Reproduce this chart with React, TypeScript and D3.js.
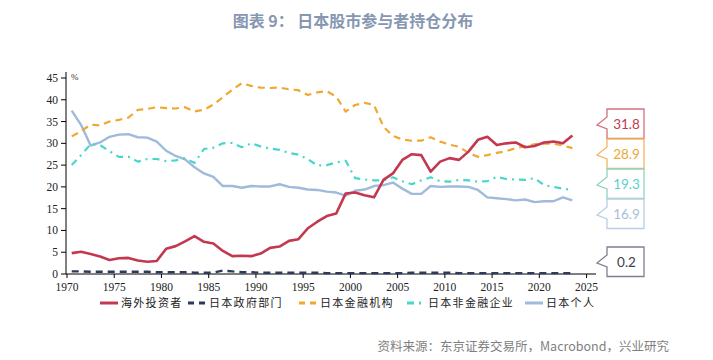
import React from "react";
import * as d3 from "d3";

const years: number[] = d3.range(1970, 2024);

const foreign: number[] = [
  4.8, 5.1, 4.6, 4.0, 3.2, 3.6, 3.7, 3.1, 2.8, 3.0,
  5.8, 6.4, 7.5, 8.7, 7.4, 7.0, 5.3, 4.1, 4.2, 4.1,
  4.7, 6.0, 6.3, 7.6, 8.0, 10.5, 12.0, 13.3, 13.9, 18.5,
  18.7, 18.1, 17.6, 21.6, 23.1, 26.2, 27.5, 27.3, 23.5, 25.8,
  26.6, 26.2, 28.1, 30.8, 31.5, 29.6, 30.0, 30.2, 29.1, 29.4,
  30.2, 30.4, 30.0, 31.8,
];

const government: number[] = [
  0.6, 0.6, 0.5, 0.5, 0.5, 0.5, 0.5, 0.5, 0.5, 0.4,
  0.4, 0.4, 0.4, 0.3, 0.3, 0.3, 0.8, 0.6, 0.4, 0.4,
  0.3, 0.3, 0.3, 0.3, 0.3, 0.3, 0.3, 0.2, 0.2, 0.2,
  0.2, 0.2, 0.2, 0.2, 0.2, 0.2, 0.3, 0.3, 0.3, 0.3,
  0.3, 0.2, 0.2, 0.2, 0.2, 0.2, 0.2, 0.2, 0.2, 0.2,
  0.2, 0.2, 0.2, 0.2,
];

const financial: number[] = [
  31.6, 32.8, 34.3, 34.1, 35.0, 35.4, 35.9, 37.7, 37.9, 38.3,
  38.1, 38.0, 38.3, 37.3, 37.7, 38.9, 40.6, 42.3, 43.8, 43.2,
  42.8, 42.7, 42.8, 42.4, 42.2, 41.1, 41.7, 42.0, 40.7, 37.3,
  38.8, 39.3, 38.8, 33.8, 31.7, 30.9, 30.6, 30.6, 31.4, 30.4,
  29.7, 29.2, 27.8, 26.9, 27.3, 27.8, 28.2, 28.9, 29.3, 29.8,
  29.9, 29.9, 29.5, 28.9,
];

const corporate: number[] = [
  25.0, 27.3, 29.8, 29.6, 28.2, 26.9, 26.9, 25.8, 26.4, 26.4,
  25.9, 26.1, 26.6, 25.5, 28.7, 29.0, 30.0, 30.1, 29.1, 30.0,
  29.3, 28.8, 28.5, 27.8, 27.4, 26.4, 24.9, 25.0, 25.6, 26.0,
  22.0, 21.7, 21.5, 21.5, 22.2, 21.3, 20.6, 21.5, 22.2, 21.3,
  21.2, 21.6, 21.5, 21.2, 21.3, 22.3, 21.8, 21.7, 21.6, 22.0,
  20.4, 20.0, 19.6, 19.3,
];

const individual: number[] = [
  37.5, 34.2, 29.5, 30.2, 31.5, 32.0, 32.1, 31.4, 31.3, 30.4,
  28.3, 27.1, 26.3, 24.5, 23.1, 22.3, 20.2, 20.2, 19.8, 20.2,
  20.1, 20.1, 20.6, 20.0, 19.8, 19.4, 19.3, 18.9, 18.7, 18.0,
  19.1, 19.4, 20.2, 20.4, 21.0, 19.6, 18.4, 18.4, 20.2, 20.0,
  20.1, 20.1, 20.0, 19.3, 17.6, 17.4, 17.2, 16.9, 17.1, 16.5,
  16.7, 16.7, 17.6, 16.9,
];

const seriesNames: string[] = ["海外投资者", "日本政府部门", "日本金融机构", "日本非金融企业", "日本个人"];
const xTicks: number[] = [1970, 1975, 1980, 1985, 1990, 1995, 2000, 2005, 2010, 2015, 2020, 2025];
const yTicks: number[] = [0, 5, 10, 15, 20, 25, 30, 35, 40, 45];

const titleText = "图表 9：  日本股市参与者持仓分布";
const sourceText = "资料来源：东京证券交易所，Macrobond，兴业研究";

type Style = { color: string; dash: string; width: number; boxStroke: string; textColor: string };
const styles: Style[] = [
  { color: "#C3384F", dash: "", width: 2.6, boxStroke: "#D4707E", textColor: "#C0394F" },
  { color: "#2D3A5C", dash: "7,5", width: 2.4, boxStroke: "#7F8090", textColor: "#404048" },
  { color: "#F0A832", dash: "7,5", width: 2.2, boxStroke: "#F4B563", textColor: "#EBA935" },
  { color: "#47D6CC", dash: "7,5,2,5", width: 2.2, boxStroke: "#8FD5BE", textColor: "#55D2CA" },
  { color: "#9FBADA", dash: "", width: 2.4, boxStroke: "#B9CDE5", textColor: "#A8BEDB" },
];

const data: number[][] = [foreign, government, financial, corporate, individual];

// label box layout (foreign, financial, corporate, individual, government)
const boxOrder = [0, 2, 3, 4, 1];
const boxTops = [109, 139, 169, 199, 247];
const legendX = [100, 188, 299, 407, 525];

export default function App() {
  const x = d3.scaleLinear().domain([1970, 2026]).range([67, 596]);
  const y = d3.scaleLinear().domain([0, 45]).range([274, 78]);

  const line = d3
    .line<number>()
    .x((_, i) => x(years[i] + 0.5))
    .y((d) => y(d));

  const boxL = 607;
  const boxR = 644;
  const tipX = 597;

  return (
    <svg
      width={713}
      height={360}
      style={{ position: "absolute", left: 0, top: 0, background: "#fff" }}
      xmlns="http://www.w3.org/2000/svg"
    >
      <text
        x={353}
        y={27}
        textAnchor="middle"
        fontFamily="'Noto Sans CJK SC', sans-serif"
        fontWeight="bold"
        fontSize={16}
        fill="#8797B2"
      >
        {titleText}
      </text>

      {/* axes */}
      <line x1={x(1970) - 1} x2={x(1970) - 1} y1={72} y2={y(0)} stroke="#000" strokeWidth={1} />
      <line x1={x(1970) - 1} x2={x(2026)} y1={y(0)} y2={y(0)} stroke="#000" strokeWidth={1} />
      {yTicks.map((t) => (
        <g key={"y" + t}>
          <line x1={x(1970) - 6} x2={x(1970) - 1} y1={y(t)} y2={y(t)} stroke="#000" />
          <text
            x={x(1970) - 9}
            y={y(t)}
            dy="0.35em"
            textAnchor="end"
            fontFamily="'Liberation Serif', serif"
            fontSize={11.5}
            fill="#222"
          >
            {t}
          </text>
        </g>
      ))}
      {xTicks.map((t) => (
        <g key={"x" + t}>
          <line x1={x(t)} x2={x(t)} y1={y(0)} y2={y(0) + 4} stroke="#000" />
          <text
            x={x(t)}
            y={y(0) + 17}
            textAnchor="middle"
            fontFamily="'Liberation Serif', serif"
            fontSize={11.5}
            fill="#222"
          >
            {t}
          </text>
        </g>
      ))}
      <text x={71} y={80} fontFamily="'Liberation Serif', serif" fontSize={9} fill="#333">
        %
      </text>

      {/* series */}
      {[4, 3, 2, 0, 1].map((k) => (
        <path
          key={"s" + k}
          d={line(data[k]) || ""}
          fill="none"
          stroke={styles[k].color}
          strokeWidth={styles[k].width}
          strokeDasharray={styles[k].dash || undefined}
          strokeLinejoin="round"
        />
      ))}

      {/* end-value callouts */}
      {boxOrder.map((k, j) => {
        const t = boxTops[j];
        const h = 29.5;
        const d = `M${boxL},${t} L${boxR},${t} L${boxR},${t + h} L${boxL},${t + h} L${boxL},${t + 20} L${tipX},${t + 16} L${boxL},${t + 8} Z`;
        const v = data[k][data[k].length - 1];
        return (
          <g key={"b" + k}>
            <path d={d} fill="#fff" stroke={styles[k].boxStroke} strokeWidth={1.3} />
            <text
              x={(boxL + boxR) / 2 + 1}
              y={t + h / 2}
              dy="0.36em"
              textAnchor="middle"
              fontFamily="Lato, 'Noto Sans', sans-serif"
              fontSize={13.5}
              fill={styles[k].textColor}
            >
              {v.toFixed(1)}
            </text>
          </g>
        );
      })}

      {/* legend */}
      {seriesNames.map((n, k) => (
        <g key={"l" + k}>
          <line
            x1={legendX[k]}
            x2={legendX[k] + 18}
            y1={303}
            y2={303}
            stroke={styles[k].color}
            strokeWidth={3}
            strokeDasharray={k === 0 || k === 4 ? undefined : k === 3 ? "7,5,2,5" : "6,5"}
          />
          <text
            x={legendX[k] + 21}
            y={303}
            dy="0.36em"
            fontFamily="'Noto Sans CJK SC', sans-serif"
            fontSize={11}
            letterSpacing={1.3}
            fill="#222"
          >
            {n}
          </text>
        </g>
      ))}

      <text
        x={669}
        y={347}
        dy="0.35em"
        textAnchor="end"
        fontFamily="'Noto Sans CJK SC', sans-serif"
        fontSize={12.5}
        fill="#7F7F7F"
      >
        {sourceText}
      </text>
    </svg>
  );
}
